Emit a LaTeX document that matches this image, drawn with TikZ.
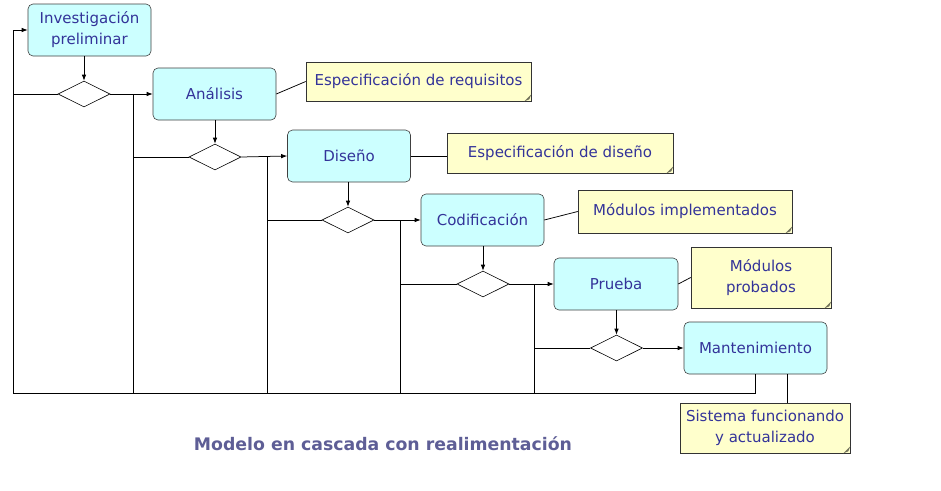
\documentclass[tikz,border=0pt]{standalone}
\usepackage{fontspec}
\setmainfont{DejaVu Sans}
\usetikzlibrary{shapes.geometric,arrows.meta}
\definecolor{boxfill}{HTML}{CCFFFF}
\definecolor{notefill}{HTML}{FFFFCC}
\definecolor{txt}{HTML}{333399}
\definecolor{ttl}{HTML}{5E5E96}
\begin{document}
\begin{tikzpicture}[x=1pt,y=-1pt,
  stepbox/.style={draw=black!75, fill=boxfill, rounded corners=5pt, minimum width=123pt, minimum height=52pt,
    text=txt, align=center, font=\fontsize{15}{21}\selectfont, inner sep=1pt, line width=0.6pt},
  dec/.style={diamond, draw, aspect=2, minimum width=52pt, minimum height=26pt, inner sep=0pt, line width=0.6pt},
  note/.style={draw=black!80, fill=notefill, text=txt, align=center, font=\fontsize{15}{21}\selectfont,
    inner sep=1pt, line width=0.6pt},
  arr/.style={-{Latex[length=6pt,width=4.5pt]}, line width=0.75pt},
  ln/.style={line width=0.75pt}]
\useasboundingbox (0,0) rectangle (941,490);
\fill[white] (0,0) rectangle (941,490);

% steps
\node[stepbox] (inv) at (89.5,30) {Investigación\\preliminar};
\node[stepbox] (ana) at (214.5,94) {Análisis};
\node[stepbox] (dis) at (349,156) {Diseño};
\node[stepbox] (cod) at (482.5,220) {Codificación};
\node[stepbox, minimum width=124pt] (pru) at (616,284) {Prueba};
\node[stepbox, minimum width=143pt] (man) at (755.5,348) {Mantenimiento};

% decisions
\node[dec] (d1) at (84,94) {};
\node[dec] (d2) at (215,157) {};
\node[dec] (d3) at (348,220) {};
\node[dec] (d4) at (483,284) {};
\node[dec] (d5) at (616.5,348) {};

% notes
\node[note, minimum width=225pt, minimum height=39pt] (n1) at (418.5,81.5) {Especificación de requisitos};
\node[note, minimum width=226pt, minimum height=40pt] (n2) at (560,153) {Especificación de diseño};
\node[note, minimum width=214pt, minimum height=43pt] (n3) at (685,211.5) {Módulos implementados};
\node[note, minimum width=140pt, minimum height=61pt] (n4) at (761,277.5) {Módulos\\probados};
\node[note, minimum width=170pt, minimum height=50pt] (n5) at (765,428) {Sistema funcionando\\y actualizado};
\foreach \n in {n1,n2,n3,n4,n5}{
  \fill[notefill!45!black] ([xshift=-7pt]\n.south east) -- ([yshift=7pt]\n.south east) -- ([xshift=-2pt,yshift=2pt]\n.south east) -- cycle;
}

% title
\node[text=ttl, font=\bfseries\fontsize{17.3}{20}\selectfont] (title) at (383,444) {Modelo en cascada con realimentación};

% forward flow
\draw[arr] (inv.south -| d1) -- (d1.north);
\draw[arr] (d1.east) -- (ana.west);
\draw[arr] (ana.south -| d2) -- (d2.north);
\draw[arr] (d2.east) -- (dis.west);
\draw[arr] (dis.south -| d3) -- (d3.north);
\draw[arr] (d3.east) -- (cod.west);
\draw[arr] (cod.south -| d4) -- (d4.north);
\draw[arr] (d4.east) -- (pru.west);
\draw[arr] (pru.south -| d5) -- (d5.north);
\draw[arr] (d5.east) -- (man.west);

% feedback
\coordinate (bl) at (13,393);
\coordinate (j1) at (133,94);
\coordinate (j2) at (267,157);
\coordinate (j3) at (400,220);
\coordinate (j4) at (534,284);
\draw[arr] (man.south) |- (bl) |- (inv.west);
\draw[ln] (d1.west) -- (d1.west -| bl);
\draw[ln] (d2.west) -- (d2.west -| j1);
\draw[ln] (d3.west) -- (d3.west -| j2);
\draw[ln] (d4.west) -- (d4.west -| j3);
\draw[ln] (d5.west) -- (d5.west -| j4);
\foreach \j in {j1,j2,j3,j4}{ \draw[ln] (\j) -- (\j |- bl); }

% note connectors
\coordinate (mx) at (787,0);
\draw[ln] (ana.east) -- (n1.west);
\draw[ln] (dis.east) -- (dis.east -| n2.west);
\draw[ln] (cod.east) -- (n3.west);
\draw[ln] (pru.east) -- (n4.west);
\draw[ln] (man.south -| mx) -- (n5.north -| mx);
\end{tikzpicture}
\end{document}
